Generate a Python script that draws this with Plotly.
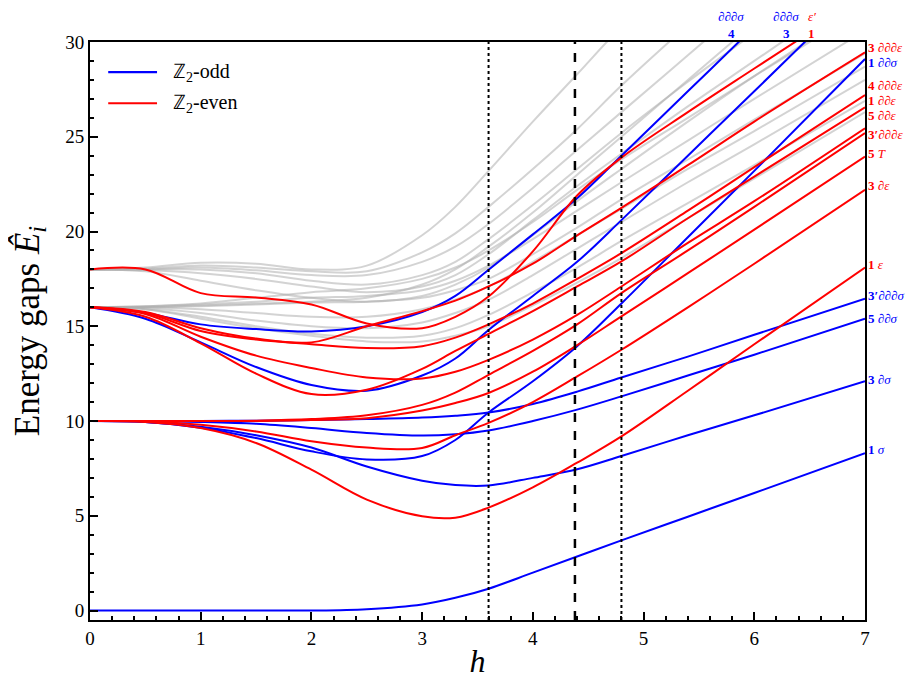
import plotly.graph_objects as go

# common h grid
H = [0, 0.5, 1, 1.5, 2, 2.5, 3, 3.3, 3.6, 4, 4.4, 4.8, 5.4, 6, 7]

# Z2-odd levels (blue)
odd_1_sigma      = [0, 0, 0, 0, 0, 0.07, 0.32, 0.67, 1.15, 2.0, 2.85, 3.7, 4.95, 6.2, 8.3]
odd_3_dsigma     = [10, 9.95, 9.7, 9.25, 8.6, 7.6, 6.85, 6.62, 6.6, 7.0, 7.45, 8.15, 9.25, 10.3, 12.1]
odd_5_ddsigma    = [10, 10, 9.95, 9.85, 9.63, 9.37, 9.23, 9.3, 9.5, 10.0, 10.6, 11.3, 12.4, 13.5, 15.4]
odd_3p_dddsigma  = [10, 10, 10, 10.02, 10.05, 10.1, 10.18, 10.28, 10.45, 10.9, 11.55, 12.3, 13.4, 14.55, 16.45]
odd_1_ddsigma    = [10, 9.95, 9.65, 9.1, 8.4, 7.97, 8.15, 9.0, 10.45, 12.1, 13.95, 16.2, 19.7, 23.2, 29.1]
odd_3_dddsigma   = [16, 15.4, 14.15, 12.85, 11.9, 11.6, 12.4, 13.3, 14.8, 16.6, 18.4, 20.6, 24.0, 27.4, 33.1]
odd_4_dddsigma   = [16, 15.7, 15.1, 14.85, 14.73, 15.0, 15.75, 16.6, 17.98, 19.85, 21.75, 24.0, 27.4, 30.8, 36.5]

# Z2-even levels (red)
even_1_eps       = [10, 9.95, 9.63, 8.84, 7.43, 5.85, 4.97, 4.9, 5.43, 6.5, 7.8, 9.19, 11.6, 14.05, 18.1]
even_3_deps      = [10, 9.98, 9.8, 9.45, 8.93, 8.6, 8.58, 9.25, 9.9, 11.0, 12.35, 13.76, 16.0, 18.3, 22.2]
even_5_T         = [10, 10, 10, 10.0, 10.05, 10.15, 10.55, 10.95, 11.48, 12.6, 14.0, 15.52, 17.8, 20.1, 23.95]
even_3p_dddeps   = [10, 10, 10, 10.02, 10.1, 10.3, 10.85, 11.5, 12.44, 13.7, 15.1, 16.75, 19.0, 21.3, 25.2]
even_5_ddeps     = [16, 15.65, 14.45, 13.45, 12.8, 12.3, 12.25, 12.6, 13.23, 14.3, 15.6, 17.1, 19.4, 21.6, 25.45]
even_1_ddeps     = [16, 15.5, 14.1, 12.5, 11.42, 11.65, 12.75, 13.7, 14.6, 15.8, 17.1, 18.42, 20.7, 22.9, 26.55]
even_4_dddeps    = [16, 15.7, 14.75, 14.3, 14.05, 13.85, 13.95, 14.4, 15.1, 16.2, 17.5, 18.86, 21.1, 23.4, 27.2]
even_3_dddeps    = [16, 15.75, 14.9, 14.35, 14.15, 15.0, 15.8, 16.35, 17.1, 18.3, 19.8, 21.25, 23.5, 25.8, 29.45]
even_1_epsprime  = [18, 18.0, 16.75, 16.52, 16.15, 15.15, 14.9, 15.5, 16.57, 18.95, 21.9, 23.9, 26.3, 28.6, 32.4]

# other sectors (gray)
gray_levels = [
    [18, 18.1, 18.35, 18.3, 18.0, 18.2, 19.8, 21.3, 23.2, 25.8, 28.3, 30.8, 34, 37, 42],
    [18, 18.05, 18.2, 18.1, 17.9, 17.9, 18.9, 19.9, 21.3, 23.3, 25.4, 27.7, 30.9, 34, 39],
    [18, 18.0, 18.1, 17.95, 17.7, 17.7, 18.4, 19.2, 20.4, 22.3, 24.3, 26.3, 29.3, 32.3, 37],
    [18, 18.0, 18.0, 17.8, 17.4, 17.2, 17.7, 18.4, 19.6, 21.4, 23.3, 25.2, 27.9, 30.5, 35],
    [18, 17.95, 17.8, 17.5, 17.1, 16.8, 17.1, 17.7, 18.8, 20.6, 22.4, 24.1, 26.6, 29.0, 33],
    [18, 17.9, 17.4, 16.9, 16.5, 16.3, 16.6, 17.2, 18.1, 19.8, 21.6, 23.3, 25.8, 28.2, 32],
    [16, 16.05, 16.2, 16.5, 16.8, 17.0, 17.5, 18.1, 19.0, 20.5, 22.2, 23.8, 26.0, 28.2, 31.8],
    [16, 16.05, 16.15, 16.3, 16.5, 16.6, 16.9, 17.4, 18.2, 19.6, 21.1, 22.6, 24.8, 27.0, 30.6],
    [16, 16.0, 16.05, 16.15, 16.25, 16.3, 16.5, 16.9, 17.5, 18.8, 20.2, 21.7, 23.8, 25.9, 29.4],
    [16, 16.0, 15.9, 15.7, 15.5, 15.5, 15.9, 16.4, 17.1, 18.4, 19.8, 21.2, 23.3, 25.3, 28.7],
    [16, 15.95, 15.7, 15.3, 15.0, 14.9, 15.2, 15.7, 16.4, 17.7, 19.1, 20.5, 22.6, 24.6, 28.0],
    [16, 15.9, 15.5, 15.0, 14.6, 14.4, 14.5, 14.9, 15.6, 16.8, 18.1, 19.5, 21.5, 23.5, 26.9],
    [16, 15.9, 15.4, 14.9, 14.5, 14.2, 14.2, 14.5, 15.0, 16.1, 17.3, 18.6, 20.7, 22.8, 26.3],
    [16, 16.02, 16.1, 16.2, 16.3, 16.5, 17.2, 18.0, 19.2, 21.0, 23.0, 25.0, 28, 31, 36],
]

odd_levels = [odd_1_sigma, odd_3_dsigma, odd_5_ddsigma, odd_3p_dddsigma,
              odd_1_ddsigma, odd_3_dddsigma, odd_4_dddsigma]
even_levels = [even_1_eps, even_3_deps, even_5_T, even_3p_dddeps, even_5_ddeps,
               even_1_ddeps, even_4_dddeps, even_3_dddeps, even_1_epsprime]

vlines_dotted = [3.6, 4.8]
vline_dashed = [4.38]

# right-edge labels: (number, operator, colour key, energy position)
right_labels = [
    ("3 ", "∂∂∂ε", "even", 29.72),
    ("1 ", "∂∂σ", "odd", 28.92),
    ("4 ", "∂∂∂ε", "even", 27.68),
    ("1 ", "∂∂ε", "even", 26.9),
    ("5 ", "∂∂ε", "even", 26.12),
    ("3′", "∂∂∂ε", "even", 25.1),
    ("5 ", "T", "even", 24.1),
    ("3 ", "∂ε", "even", 22.41),
    ("1 ", "ε", "even", 18.24),
    ("3′", "∂∂∂σ", "odd", 16.6),
    ("5 ", "∂∂σ", "odd", 15.43),
    ("3 ", "∂σ", "odd", 12.18),
    ("1 ", "σ", "odd", 8.49),
]
# top labels: (operator, number, colour key, h position)
top_labels = [
    ("∂∂∂σ", "4", "odd", 5.79),
    ("∂∂∂σ", "3", "odd", 6.29),
    ("ε′", "1", "even", 6.52),
]
legend_items = [("ℤ<sub>2</sub>-odd", "odd"), ("ℤ<sub>2</sub>-even", "even")]

BLUE = "#0000ff"
RED = "#ff0000"
COL = {"odd": BLUE, "even": RED}
FONT = "Liberation Serif"

fig = go.Figure()

for g in gray_levels:
    fig.add_trace(go.Scatter(x=H, y=g, mode="lines",
                             line=dict(color="rgba(175,175,175,0.55)", width=2.0,
                                       shape="spline", smoothing=1.0),
                             showlegend=False, hoverinfo="skip"))

for lv in odd_levels:
    fig.add_trace(go.Scatter(x=H, y=lv, mode="lines",
                             line=dict(color=BLUE, width=2.0, shape="spline", smoothing=1.0),
                             name="ℤ2-odd", showlegend=False, hoverinfo="skip"))

for lv in even_levels:
    fig.add_trace(go.Scatter(x=H, y=lv, mode="lines",
                             line=dict(color=RED, width=2.0, shape="spline", smoothing=1.0),
                             name="ℤ2-even", showlegend=False, hoverinfo="skip"))

for xv in vlines_dotted:
    fig.add_shape(type="line", x0=xv, x1=xv, y0=0, y1=1, xref="x", yref="paper",
                  line=dict(color="black", width=2, dash="dot"), layer="above")
for xv in vline_dashed:
    fig.add_shape(type="line", x0=xv, x1=xv, y0=0, y1=1, xref="x", yref="paper",
                  line=dict(color="black", width=2.5, dash="dash"), layer="above")

# legend drawn inside the axes (upper left)
for k, (label, key) in enumerate(legend_items):
    ly = 0.948 - k * 0.054
    fig.add_shape(type="line", x0=0.0235, x1=0.0865, y0=ly, y1=ly, xref="paper", yref="paper",
                  line=dict(color=COL[key], width=2.2))
    fig.add_annotation(x=0.105, y=ly, xref="paper", yref="paper", xanchor="left",
                       yanchor="middle", showarrow=False, text=label,
                       font=dict(family=FONT, size=20, color="black"))

for num, op, key, ypos in right_labels:
    fig.add_annotation(x=1, xref="paper", y=ypos, yref="y", xshift=1,
                       xanchor="left", yanchor="middle", showarrow=False,
                       text=f"<b>{num}</b><i>{op}</i>",
                       font=dict(family=FONT, size=13, color=COL[key]))

for op, num, key, hpos in top_labels:
    fig.add_annotation(x=hpos, xref="x", y=1, yref="paper", yshift=25.5,
                       xanchor="center", yanchor="middle", showarrow=False,
                       text=f"<i>{op}</i>",
                       font=dict(family=FONT, size=13, color=COL[key]))
    fig.add_annotation(x=hpos, xref="x", y=1, yref="paper", yshift=9,
                       xanchor="center", yanchor="middle", showarrow=False,
                       text=f"<b>{num}</b>",
                       font=dict(family=FONT, size=13, color=COL[key]))

axis_common = dict(showline=True, linecolor="black", linewidth=2, mirror=True,
                   ticks="inside", tickcolor="black", showgrid=False, zeroline=False,
                   automargin=False,
                   tickfont=dict(family=FONT, size=19, color="black"))

fig.update_layout(
    width=901, height=671,
    margin=dict(l=82, r=44, t=34, b=59),
    paper_bgcolor="white", plot_bgcolor="white",
    font=dict(family=FONT, color="black"),
    xaxis=dict(range=[0, 7], dtick=1, ticklen=8, tickwidth=1.5,
               minor=dict(ticks="inside", dtick=0.2, ticklen=4, tickcolor="black"),
               title=dict(text="<i>h</i>", font=dict(family=FONT, size=32)),
               **axis_common),
    yaxis=dict(range=[-0.5, 30], tickvals=[0, 5, 10, 15, 20, 25, 30], ticklen=8, tickwidth=1.5,
               minor=dict(ticks="inside", dtick=1, tick0=0, ticklen=4, tickcolor="black"),
               title=dict(text="Energy gaps <i>Ê<sub>i</sub></i>", font=dict(family=FONT, size=35)),
               **axis_common),
    showlegend=False,
)

fig.write_html("out.html")
